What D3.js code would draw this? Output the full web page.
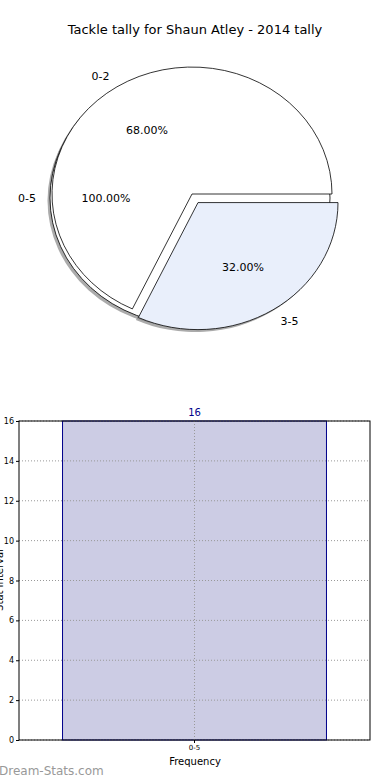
<!DOCTYPE html>
<html lang="en">
<head>
  <meta charset="UTF-8">
  <title>Tackle tally for Shaun Atley - 2014 tally</title>
  <script src="https://d3js.org/d3.v7.min.js"></script>
  <style>
    body { margin: 0; background: #fff; }
    svg text { font-family: "DejaVu Sans", sans-serif; }
  </style>
</head>
<body>
  <svg id="chart" width="390" height="780"></svg>

  <script>
    // pie data: one full wedge underneath, two wedges on top
    const outerLabels = ["0-5"];
    const outerValues = [100];
    const innerLabels = ["0-2", "3-5"];
    const innerValues = [68, 32];
    const innerColors = ["#ffffff", "#e9effb"];
    const innerExplode = [0, 0.08];

    // bar data
    const barCategories = ["0-5"];
    const barValues = [16];
    const yTicks = [0, 2, 4, 6, 8, 10, 12, 14, 16];

    const svg = d3.select("#chart");

    svg.append("text").attr("x", 195).attr("y", 34).attr("text-anchor", "middle")
      .attr("font-size", 13).text("Tackle tally for Shaun Atley - 2014 tally");

    // ---------- pie ----------
    const rx = 140, ry = 127;
    // matplotlib style: start at east, counterclockwise
    const pie = d3.pie().sort(null).startAngle(Math.PI / 2).endAngle(Math.PI / 2 - 2 * Math.PI);
    const unitArc = d3.arc().innerRadius(0).outerRadius(1);
    const pt = (a, k) => [Math.sin(a) * rx * k, -Math.cos(a) * ry * k];

    function drawPie(g, cx, cy, arcs, colors, explode, shadowOnly) {
      arcs.forEach((d, i) => {
        const mid = (d.startAngle + d.endAngle) / 2;
        const off = pt(mid, explode[i]);
        const px = cx + off[0], py = cy + off[1];
        if (shadowOnly) {
          g.append("path").attr("d", unitArc(d))
            .attr("transform", `translate(${px - 2.5},${py + 2.5}) scale(${rx},${ry})`)
            .attr("fill", "#888").attr("opacity", 0.7);
        } else {
          g.append("path").attr("d", unitArc(d))
            .attr("transform", `translate(${px},${py}) scale(${rx},${ry})`)
            .attr("fill", colors[i]).attr("stroke", "#000").attr("stroke-width", 0.8)
            .attr("vector-effect", "non-scaling-stroke");
        }
      });
    }

    function drawPieText(g, cx, cy, arcs, labels, explode) {
      const total = d3.sum(arcs, d => d.value);
      arcs.forEach((d, i) => {
        const mid = (d.startAngle + d.endAngle) / 2;
        const off = pt(mid, explode[i]);
        const px = cx + off[0], py = cy + off[1];
        const lp = pt(mid, 1.1);
        const pp = pt(mid, 0.6);
        g.append("text").attr("x", px + lp[0]).attr("y", py + lp[1] + 4)
          .attr("text-anchor", lp[0] < 0 ? "end" : "start")
          .attr("font-size", 11).text(labels[i]);
        g.append("text").attr("x", px + pp[0]).attr("y", py + pp[1] + 4)
          .attr("text-anchor", "middle").attr("font-size", 11)
          .text((d.value / total * 100).toFixed(2) + "%");
      });
    }

    const outerArcs = pie(outerValues);
    const innerArcs = pie(innerValues);
    const pg = svg.append("g");
    drawPie(pg, 190, 198, outerArcs, ["#ffffff"], [0], true);
    drawPie(pg, 192, 194, innerArcs, innerColors, innerExplode, true);
    drawPie(pg, 190, 198, outerArcs, ["#ffffff"], [0], false);
    drawPie(pg, 192, 194, innerArcs, innerColors, innerExplode, false);
    drawPieText(pg, 190, 198, outerArcs, outerLabels, [0]);
    drawPieText(pg, 192, 194, innerArcs, innerLabels, innerExplode);

    // ---------- bar ----------
    const plotL = 19, plotR = 370, plotT = 421, plotB = 740;
    const x = d3.scaleBand().domain(barCategories).range([plotL, plotR])
      .paddingInner(0.248).paddingOuter(0.124);
    const y = d3.scaleLinear().domain([0, 16]).range([plotB, plotT]);

    svg.selectAll("rect.bar").data(barValues).join("rect").attr("class", "bar")
      .attr("x", (d, i) => x(barCategories[i])).attr("width", x.bandwidth())
      .attr("y", d => y(d)).attr("height", d => y(0) - y(d))
      .attr("fill", "#ccccE4")
      .attr("stroke", "#00008b").attr("stroke-width", 1);

    // grid above the bar, as matplotlib does
    const grid = svg.append("g").attr("stroke", "#999").attr("stroke-dasharray", "1,2");
    yTicks.forEach(t => {
      grid.append("line").attr("x1", plotL).attr("x2", plotR).attr("y1", y(t)).attr("y2", y(t));
    });
    barCategories.forEach(c => {
      grid.append("line").attr("x1", x(c) + x.bandwidth() / 2).attr("x2", x(c) + x.bandwidth() / 2)
        .attr("y1", plotT).attr("y2", plotB);
    });

    svg.selectAll("text.val").data(barValues).join("text").attr("class", "val")
      .attr("x", (d, i) => x(barCategories[i]) + x.bandwidth() / 2).attr("y", d => y(d) - 5)
      .attr("text-anchor", "middle").attr("font-size", 10).attr("fill", "#00008b").text(d => d);

    svg.append("rect").attr("x", plotL).attr("y", plotT).attr("width", plotR - plotL).attr("height", plotB - plotT)
      .attr("fill", "none").attr("stroke", "#000").attr("stroke-width", 1);

    const yAxis = svg.append("g").attr("transform", `translate(${plotL},0)`)
      .call(d3.axisLeft(y).tickValues(yTicks).tickSize(3).tickPadding(2));
    yAxis.select(".domain").remove();
    yAxis.selectAll("text").attr("font-size", 8).attr("font-family", "DejaVu Sans, sans-serif");

    const xAxis = svg.append("g").attr("transform", `translate(0,${plotB})`)
      .call(d3.axisBottom(x).tickSize(3).tickPadding(2));
    xAxis.select(".domain").remove();
    xAxis.selectAll("text").attr("font-size", 7).attr("font-family", "DejaVu Sans, sans-serif");

    svg.append("text").attr("x", 195).attr("y", 765).attr("text-anchor", "middle")
      .attr("font-size", 10).text("Frequency");

    // y label sits mostly off the left edge, as in the original
    svg.append("text").attr("transform", "translate(3,580) rotate(-90)")
      .attr("text-anchor", "middle").attr("font-size", 10).text("Stat Interval");

    svg.append("text").attr("x", -1).attr("y", 775).attr("font-size", 12)
      .attr("fill", "#999").text("Dream-Stats.com");
  </script>
</body>
</html>
